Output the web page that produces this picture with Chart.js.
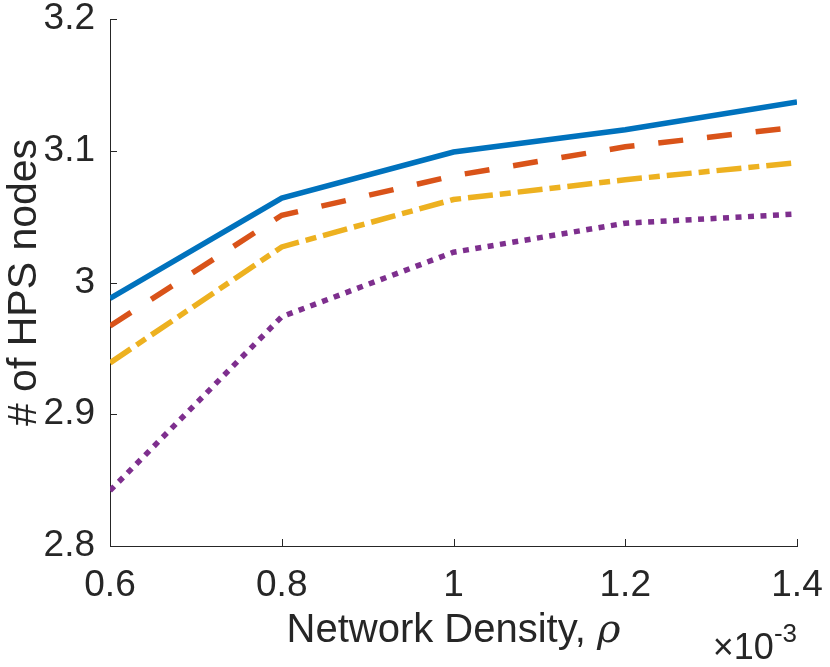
<!DOCTYPE html>
<html>
<head>
<meta charset="utf-8">
<script src="https://cdn.jsdelivr.net/npm/chart.js@4.4.1/dist/chart.umd.min.js"></script>
<style>
  html, body { margin: 0; padding: 0; background: #fff; }
  #wrap { width: 830px; height: 667px; position: relative; }
</style>
</head>
<body>
<div id="wrap"><canvas id="densityCanvas"></canvas></div>
<script>
// values (x in units of 1e-3)
const densities = [0.6, 0.8, 1.0, 1.2, 1.4];
const seriesSolid = [2.988, 3.064, 3.099, 3.116, 3.137];
const seriesDashed = [2.967, 3.051, 3.081, 3.103, 3.118];
const seriesDashDot = [2.939, 3.027, 3.063, 3.078, 3.091];
const seriesDotted = [2.842, 2.974, 3.023, 3.045, 3.052];
const xTickLabels = ['0.6', '0.8', '1', '1.2', '1.4'];
const yTickValues = [2.8, 2.9, 3.0, 3.1, 3.2];
const yTickLabels = ['2.8', '2.9', '3', '3.1', '3.2'];

const axisColor = '#262626';
const fontFamily = '"Liberation Sans", Arial, Helvetica, sans-serif';

function toPoints(values) {
    return values.map(function (v, i) { return { x: densities[i], y: v }; });
}

// MATLAB style: ticks pointing into the plot, axis titles, x-axis exponent
const matlabAxes = {
    id: 'matlabAxes',
    afterDraw(chart) {
        const ctx = chart.ctx;
        const xs = chart.scales.x;
        const ys = chart.scales.y;
        const area = chart.chartArea;
        const tickLen = 7;
        ctx.save();
        ctx.strokeStyle = axisColor;
        ctx.lineWidth = 1;
        ctx.beginPath();
        densities.forEach(function (d) {
            const px = Math.round(xs.getPixelForValue(d)) + 0.5;
            ctx.moveTo(px, area.bottom);
            ctx.lineTo(px, area.bottom - tickLen);
        });
        yTickValues.forEach(function (v) {
            const py = Math.round(ys.getPixelForValue(v)) + 0.5;
            ctx.moveTo(area.left, py);
            ctx.lineTo(area.left + tickLen, py);
        });
        ctx.stroke();

        ctx.fillStyle = axisColor;
        ctx.textBaseline = 'alphabetic';

        // y title
        ctx.save();
        ctx.translate(36, (area.top + area.bottom) / 2);
        ctx.rotate(-Math.PI / 2);
        ctx.font = '41px ' + fontFamily;
        ctx.textAlign = 'center';
        ctx.fillText('# of HPS nodes', 0, 0);
        ctx.restore();

        // x title with italic rho
        const mainFont = '40px ' + fontFamily;
        const rhoFont = 'italic 40px "DejaVu Serif", "Liberation Serif", serif';
        const mainText = 'Network Density, ';
        ctx.font = mainFont;
        const w1 = ctx.measureText(mainText).width;
        ctx.font = rhoFont;
        const w2 = ctx.measureText('ρ').width;
        const cx = (area.left + area.right) / 2;
        const sx = cx - (w1 + w2) / 2;
        ctx.textAlign = 'left';
        ctx.font = mainFont;
        ctx.fillText(mainText, sx, 642);
        ctx.font = rhoFont;
        ctx.fillText('ρ', sx + w1, 642);

        // exponent label
        ctx.font = '36px ' + fontFamily;
        const baseText = '×10';
        const wb = ctx.measureText(baseText).width;
        ctx.font = '26px ' + fontFamily;
        const we = ctx.measureText('-3').width;
        const ex = area.right - wb - we;
        ctx.font = '36px ' + fontFamily;
        ctx.fillText(baseText, ex, 659);
        ctx.font = '26px ' + fontFamily;
        ctx.fillText('-3', ex + wb, 642);
        ctx.restore();
    }
};

const ctx = document.getElementById('densityCanvas').getContext('2d');
const densityChart = new Chart(ctx, {
    type: 'line',
    data: {
        datasets: [{
            data: toPoints(seriesSolid),
            borderColor: '#0072BD',
            borderWidth: 5.5
        }, {
            data: toPoints(seriesDashed),
            borderColor: '#D95319',
            borderWidth: 5.5,
            borderDash: [25, 24]
        }, {
            data: toPoints(seriesDashDot),
            borderColor: '#EDB120',
            borderWidth: 5.5,
            borderDash: [25, 7, 11, 7]
        }, {
            data: toPoints(seriesDotted),
            borderColor: '#7E2F8E',
            borderWidth: 5.5,
            borderDash: [6, 6.5]
        }]
    },
    plugins: [matlabAxes],
    options: {
        responsive: true,
        maintainAspectRatio: false,
        animation: false,
        devicePixelRatio: 1,
        layout: {
            padding: { left: 0, top: 19, right: 33, bottom: 0 }
        },
        elements: {
            point: { radius: 0, hoverRadius: 0 },
            line: { tension: 0, borderCapStyle: 'butt', borderJoinStyle: 'miter' }
        },
        plugins: {
            legend: { display: false },
            tooltip: { enabled: false }
        },
        scales: {
            x: {
                type: 'linear',
                min: 0.6,
                max: 1.4,
                afterFit: function (scale) {
                    scale.height = 121;
                    scale.paddingLeft = 0;
                    scale.paddingRight = 0;
                },
                afterBuildTicks: function (scale) {
                    scale.ticks = densities.map(function (d) { return { value: d }; });
                },
                grid: { display: false, drawTicks: false },
                border: { display: true, color: axisColor, width: 1 },
                ticks: {
                    color: axisColor,
                    padding: 18,
                    maxRotation: 0,
                    autoSkip: false,
                    font: { family: fontFamily, size: 37 },
                    callback: function (value, index) { return xTickLabels[index]; }
                }
            },
            y: {
                type: 'linear',
                min: 2.8,
                max: 3.2,
                afterFit: function (scale) {
                    scale.width = 110;
                    scale.paddingTop = 0;
                    scale.paddingBottom = 0;
                },
                afterBuildTicks: function (scale) {
                    scale.ticks = yTickValues.map(function (v) { return { value: v }; });
                },
                grid: { display: false, drawTicks: false },
                border: { display: true, color: axisColor, width: 1 },
                ticks: {
                    color: axisColor,
                    padding: 15,
                    autoSkip: false,
                    font: { family: fontFamily, size: 37 },
                    callback: function (value, index) { return yTickLabels[index]; }
                }
            }
        }
    }
});
</script>
</body>
</html>
